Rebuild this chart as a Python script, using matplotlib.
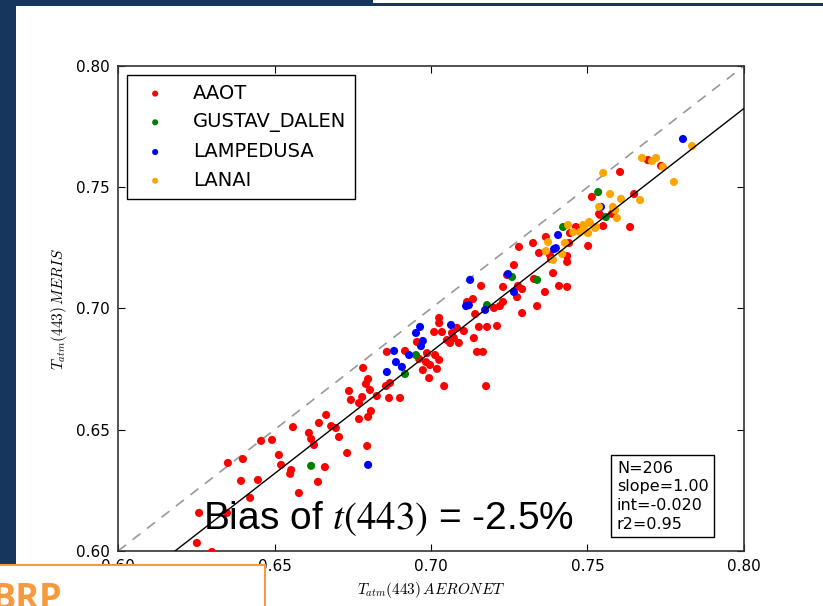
import matplotlib
matplotlib.use("Agg")
import matplotlib.pyplot as plt
from matplotlib.patches import Rectangle
import numpy as np

# AERONET vs MERIS atmospheric transmittance at 443 nm, per site
aaot_x = [0.6665, 0.6642, 0.6681, 0.6696, 0.6559, 0.6610, 0.6617, 0.6626, 0.6706, 0.6732,
          0.6457, 0.6492, 0.6514, 0.6521, 0.6399, 0.6351, 0.6553, 0.6550, 0.6661, 0.6639,
          0.6393, 0.6447, 0.6578, 0.6422, 0.6259, 0.6348, 0.6252, 0.6300, 0.6796, 0.6859,
          0.6917, 0.6866, 0.6901, 0.6783, 0.6799, 0.6792, 0.6738, 0.6744, 0.6805, 0.6780,
          0.6770, 0.6827, 0.6808, 0.6799, 0.6770, 0.6856, 0.6869, 0.6955, 0.6962, 0.6987,
          0.6984, 0.6997, 0.6974, 0.7013, 0.7026, 0.7019, 0.6994, 0.7042, 0.7010, 0.7026,
          0.7026, 0.7035, 0.7051, 0.7067, 0.7073, 0.7083, 0.7061, 0.7089, 0.7105, 0.7137,
          0.7147, 0.7166, 0.7141, 0.7153, 0.7179, 0.7176, 0.7115, 0.7160, 0.7134, 0.7201,
          0.7220, 0.7230, 0.7211, 0.7291, 0.7339, 0.7275, 0.7291, 0.7278, 0.7230, 0.7243,
          0.7265, 0.7281, 0.7326, 0.7329, 0.7364, 0.7409, 0.7435, 0.7390, 0.7345, 0.7367,
          0.7380, 0.7383, 0.7435, 0.7435, 0.7441, 0.7444, 0.7463, 0.7502, 0.7550, 0.7537,
          0.7581, 0.7604, 0.7514, 0.7649, 0.7540, 0.7578, 0.7636, 0.7693, 0.7735]
aaot_y = [0.6561, 0.6528, 0.6515, 0.6507, 0.6511, 0.6487, 0.6462, 0.6437, 0.6470, 0.6404,
          0.6454, 0.6458, 0.6396, 0.6355, 0.6379, 0.6363, 0.6334, 0.6318, 0.6346, 0.6285,
          0.6289, 0.6293, 0.6239, 0.6219, 0.6157, 0.6157, 0.6033, 0.5996, 0.6433, 0.6821,
          0.6825, 0.6631, 0.6631, 0.6755, 0.6709, 0.6689, 0.6660, 0.6623, 0.6664, 0.6635,
          0.6610, 0.6639, 0.6577, 0.6553, 0.6544, 0.6680, 0.6693, 0.6862, 0.6792, 0.6816,
          0.6779, 0.6767, 0.6746, 0.6808, 0.6788, 0.6751, 0.6713, 0.6680, 0.6903, 0.6961,
          0.6940, 0.6903, 0.6870, 0.6899, 0.6878, 0.6920, 0.6858, 0.6858, 0.6907, 0.6878,
          0.6821, 0.6821, 0.6977, 0.6924, 0.6924, 0.6680, 0.7027, 0.7093, 0.7039, 0.7002,
          0.7010, 0.7027, 0.6928, 0.6981, 0.7010, 0.7047, 0.7080, 0.7093, 0.7089, 0.7138,
          0.7179, 0.7254, 0.7270, 0.7122, 0.7068, 0.7093, 0.7089, 0.7146, 0.7229, 0.7295,
          0.7221, 0.7204, 0.7216, 0.7192, 0.7270, 0.7311, 0.7336, 0.7258, 0.7340, 0.7390,
          0.7394, 0.7563, 0.7460, 0.7472, 0.7386, 0.7390, 0.7336, 0.7612, 0.7588]

gustav_x = [0.6617, 0.6917, 0.6952, 0.7179, 0.7259, 0.7339, 0.7422, 0.7559, 0.7534]
gustav_y = [0.6351, 0.6730, 0.6808, 0.7014, 0.7130, 0.7118, 0.7336, 0.7377, 0.7480]

lamp_x = [0.6799, 0.6882, 0.6888, 0.6859, 0.6907, 0.6930, 0.6952, 0.6965, 0.6974, 0.6968,
          0.7064, 0.7112, 0.7121, 0.7173, 0.7125, 0.7246, 0.7265, 0.7393, 0.7399, 0.7406,
          0.7543, 0.7805]
lamp_y = [0.6355, 0.6825, 0.6779, 0.6738, 0.6759, 0.6808, 0.6899, 0.6924, 0.6866, 0.6845,
          0.6932, 0.7010, 0.7014, 0.6994, 0.7118, 0.7142, 0.7068, 0.7245, 0.7249, 0.7303,
          0.7419, 0.7699]

lanai_x = [0.7374, 0.7367, 0.7390, 0.7419, 0.7428, 0.7438, 0.7454, 0.7476, 0.7489, 0.7502,
           0.7508, 0.7527, 0.7537, 0.7581, 0.7594, 0.7550, 0.7572, 0.7668, 0.7607, 0.7588,
           0.7505, 0.7486, 0.7524, 0.7498, 0.7674, 0.7706, 0.7719, 0.7741, 0.7776, 0.7834]
lanai_y = [0.7274, 0.7237, 0.7200, 0.7225, 0.7270, 0.7344, 0.7315, 0.7315, 0.7340, 0.7311,
           0.7353, 0.7336, 0.7419, 0.7419, 0.7373, 0.7559, 0.7472, 0.7447, 0.7452, 0.7406,
           0.7357, 0.7344, 0.7332, 0.7315, 0.7621, 0.7608, 0.7621, 0.7584, 0.7522, 0.7670]

sites = ['AAOT', 'GUSTAV_DALEN', 'LAMPEDUSA', 'LANAI']
site_colors = ['red', 'green', 'blue', 'orange']

n_obs = 206
fit_slope = 1.004
fit_int = -0.0207
r2 = 0.95

plt.rcParams['mathtext.fontset'] = 'cm'
navy = '#17365d'
orange = '#f79a3e'

fig = plt.figure(figsize=(8.23, 6.06), dpi=100)
fig.patch.set_facecolor('white')
ax = fig.add_axes([0.1434, 0.0908, 0.7606, 0.8003])

xs = [aaot_x, gustav_x, lamp_x, lanai_x]
ys = [aaot_y, gustav_y, lamp_y, lanai_y]
for sx, sy, name, c in zip(xs, ys, sites, site_colors):
    ax.scatter(sx, sy, s=34, c=c, edgecolors='none', label=name, zorder=3)

lims = np.array([0.6, 0.8])
ax.plot(lims, lims, color='#999999', lw=1.2, dashes=(6, 5), zorder=2)
ax.plot(lims, fit_slope * lims + fit_int, '-', color='black', lw=1, zorder=4)

ax.set_xlim(0.6, 0.8)
ax.set_ylim(0.6, 0.8)
ax.set_xticks([0.60, 0.65, 0.70, 0.75, 0.80])
ax.set_yticks([0.60, 0.65, 0.70, 0.75, 0.80])
ax.xaxis.set_major_formatter(matplotlib.ticker.FormatStrFormatter('%.2f'))
ax.yaxis.set_major_formatter(matplotlib.ticker.FormatStrFormatter('%.2f'))
ax.tick_params(direction='in', top=True, right=True, length=5, labelsize=11, pad=6)
for sp in ax.spines.values():
    sp.set_linewidth(1.2)
    sp.set_color('#333333')

ax.set_xlabel(r'$T_{atm}(443)\,AERONET$', fontsize=11, labelpad=4)
ax.set_ylabel(r'$T_{atm}(443)\,MERIS$', fontsize=11, labelpad=5)

leg = ax.legend(loc='upper left', scatterpoints=1, fontsize=14, markerscale=0.75,
                frameon=True, fancybox=False, framealpha=1, edgecolor='black',
                borderaxespad=0.46, handletextpad=0.95, labelspacing=0.5, borderpad=0.45)
leg.get_frame().set_linewidth(1)

stats = 'N=%d\nslope=%.2f\nint=%.3f\nr2=%.2f' % (n_obs, round(fit_slope, 2), -0.020, r2)
ax.text(0.797, 0.04, stats, transform=ax.transAxes, fontsize=11.5, va='bottom', ha='left',
        linespacing=1.3, zorder=6,
        bbox=dict(boxstyle='square,pad=0.35', facecolor='white', edgecolor='black', lw=1))

# slide overlay
fig.text(203 / 823, 77 / 606, 'Bias of $t(443)$ = -2.5%', fontsize=28,
         family='Liberation Sans', math_fontfamily='stix', va='baseline', zorder=8)

fig.add_artist(Rectangle((0, 0), 16 / 823, 1, transform=fig.transFigure,
                         facecolor=navy, edgecolor='none', zorder=5))
fig.add_artist(Rectangle((0, 1 - 6 / 606), 373 / 823, 6 / 606, transform=fig.transFigure,
                         facecolor=navy, edgecolor='none', zorder=5))
fig.add_artist(Rectangle((373 / 823, 1 - 6 / 606), 1, 3 / 606, transform=fig.transFigure,
                         facecolor=navy, edgecolor='none', zorder=5))
fig.add_artist(Rectangle((-0.01, -0.01), 265 / 823 + 0.01, 41 / 606 + 0.01,
                         transform=fig.transFigure, facecolor='white', edgecolor=orange,
                         lw=1.5, zorder=6))
fig.text(-8 / 823, -3 / 606, 'BRP', fontsize=26, fontweight='bold', color=orange,
         family='Open Sans', va='baseline', zorder=7)

fig.savefig('out.png', dpi=100)
